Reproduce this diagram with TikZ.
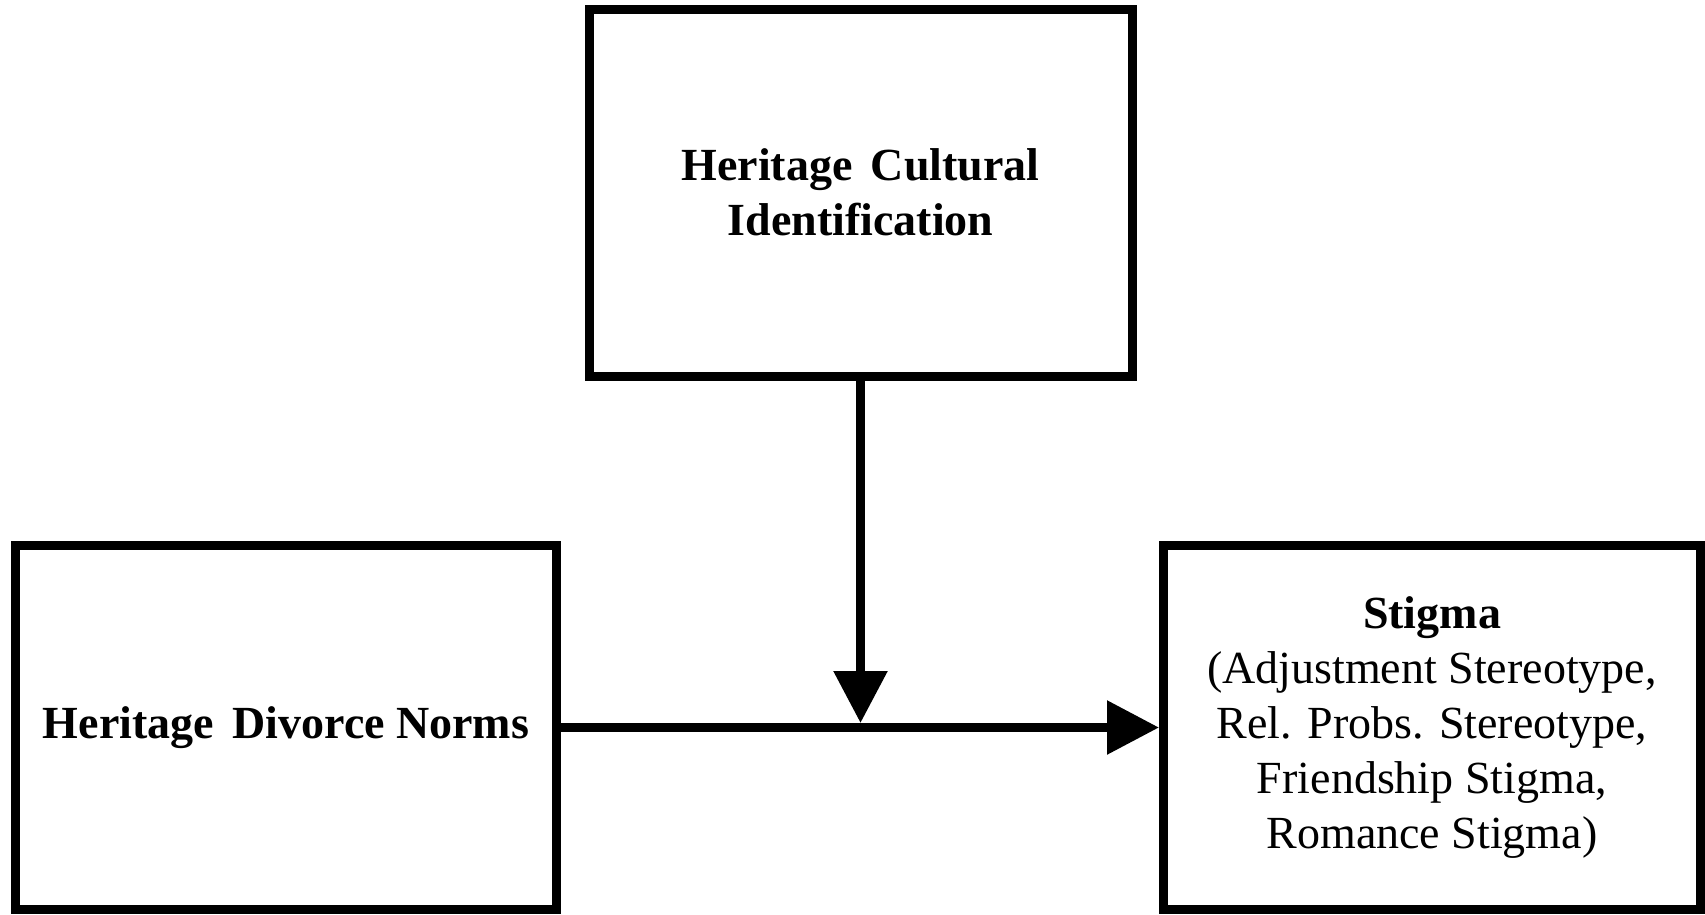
\documentclass[tikz,border=0pt]{standalone}
\usepackage{fontspec}
\setmainfont{Liberation Serif}
\usetikzlibrary{arrows.meta}
\tikzset{
  varbox/.style={draw, line width=9pt, inner sep=0pt, align=center,
    font=\fontsize{46}{55}\selectfont},
  pathline/.style={line width=9pt, -{Triangle[length=52pt,width=52pt]}}
}
\begin{document}
\begin{tikzpicture}[x=1pt,y=-1pt]
                \useasboundingbox (0,0) rectangle (1705,914);
                % boxes
                \node[varbox, minimum width=543pt, minimum height=367pt] (cult) at (860.5,192.5)
                    {\textbf{Heritage\hspace{0.4em}Cultural}\\\textbf{Identification}};
                \node[varbox, minimum width=541pt, minimum height=364pt] (norms) at (286,727.5)
                    {\textbf{Heritage\hspace{0.4em}Divorce Norms}};
                \node[varbox, minimum width=537pt, minimum height=364pt] (stigma) at (1432,727.5)
                    {\textbf{Stigma}\\(Adjustment Stereotype,\\Rel. Probs. Stereotype,\\Friendship Stigma,\\Romance Stigma)};

                % arrows
                \coordinate (join) at (860.5,723);
                \draw[pathline] (norms.east) -- (stigma.west);
                \draw[pathline] (cult.south) -- (join);
\end{tikzpicture}
\end{document}
